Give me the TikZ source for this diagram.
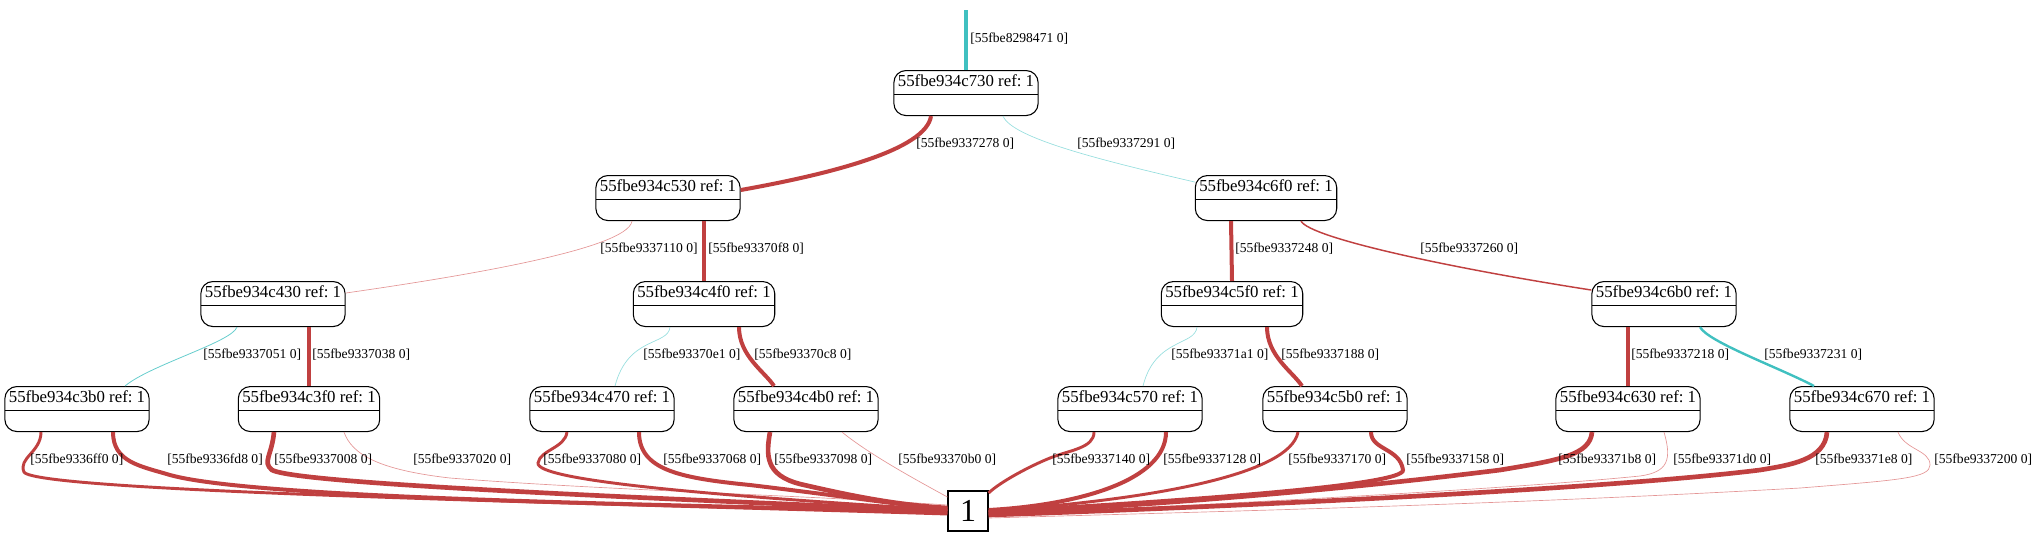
\documentclass[tikz,border=0pt]{standalone}
\usepackage{fontspec}
\setmainfont{Liberation Serif}
\usetikzlibrary{calc}
\definecolor{redc}{RGB}{192,64,64}
\definecolor{pinkc}{RGB}{228,150,150}
\definecolor{cyanc}{RGB}{64,192,192}
\definecolor{lcyanc}{RGB}{150,222,222}
\frenchspacing
\tikzset{
  rec/.style={draw, line width=0.8pt, rounded corners=9pt, inner xsep=3pt, inner ysep=0pt,
    text height=12pt, text depth=21.75pt, anchor=north,
    font=\fontsize{12.6pt}{14pt}\selectfont,
    path picture={\draw[line width=0.8pt] ([yshift=-18pt]path picture bounding box.north west) -- ([yshift=-18pt]path picture bounding box.north east);}},
  lbl/.style={font=\fontsize{10.2pt}{12pt}\selectfont, inner sep=0pt, anchor=west},
  sink/.style={draw, line width=0.9pt, minimum width=30pt, minimum height=30pt, inner sep=0pt,
    font=\fontsize{24pt}{28pt}\selectfont},
  eheavy/.style={draw=redc, line width=3.5pt},
  ethick/.style={draw=redc, line width=3pt},
  emid/.style={draw=redc, line width=2.2pt},
  ered/.style={draw=redc, line width=1.1pt},
  ethin/.style={draw=pinkc, line width=0.5pt},
  ecyan/.style={draw=cyanc, line width=1.8pt},
  ecyanthin/.style={draw=lcyanc, line width=0.5pt},
}
\begin{document}
\begin{tikzpicture}[x=0.75pt,y=-0.75pt]
\useasboundingbox (0,0) rectangle (2037,537);
% nodes
\node[rec] (c730) at (966,70) {55fbe934c730 ref: 1};
\node[rec] (c530) at (668,175) {55fbe934c530 ref: 1};
\node[rec] (c6f0) at (1266,175) {55fbe934c6f0 ref: 1};
\node[rec] (c430) at (273,281) {55fbe934c430 ref: 1};
\node[rec] (c4f0) at (704,281) {55fbe934c4f0 ref: 1};
\node[rec] (c5f0) at (1232,281) {55fbe934c5f0 ref: 1};
\node[rec] (c6b0) at (1664,281) {55fbe934c6b0 ref: 1};
\node[rec] (c3b0) at (77,386) {55fbe934c3b0 ref: 1};
\node[rec] (c3f0) at (309,386) {55fbe934c3f0 ref: 1};
\node[rec] (c470) at (602,386) {55fbe934c470 ref: 1};
\node[rec] (c4b0) at (806,386) {55fbe934c4b0 ref: 1};
\node[rec] (c570) at (1130,386) {55fbe934c570 ref: 1};
\node[rec] (c5b0) at (1335,386) {55fbe934c5b0 ref: 1};
\node[rec] (c630) at (1628,386) {55fbe934c630 ref: 1};
\node[rec] (c670) at (1862,386) {55fbe934c670 ref: 1};
\node[sink] (one) at (968,511) {1};
\coordinate (top) at (966,10);

% top edges
\draw[draw=cyanc, line width=2.5pt] (top) -- (c730.north);
\draw[ethick] ($(c730.south)+(-35,0)$) .. controls (926,150) and (830,174) .. ($(c530.east)+(0,-8)$);
\draw[ecyanthin] ($(c730.south)+(37,0)$) .. controls (1012,138) and (1100,160) .. ($(c6f0.west)+(0,-16)$);
\draw[ethin] ($(c530.south)+(-36,0)$) .. controls (628,250) and (450,278) .. ($(c430.east)+(0,-11)$);
\draw[ethick] ($(c530.south)+(36,0)$) -- (c4f0.north);
\draw[ethick] ($(c6f0.south)+(-35,0)$) -- (c5f0.north);
\draw[ered] ($(c6f0.south)+(35,0)$) .. controls (1310,238) and (1450,268) .. ($(c6b0.west)+(0,-14)$);
\draw[draw=cyanc!80!white, line width=0.6pt] ($(c430.south)+(-36,0)$) .. controls (232,342) and (150,365) .. ($(c3b0.north)+(48,0)$);
\draw[ethick] ($(c430.south)+(36,0)$) -- (c3f0.north);
\draw[ecyanthin] ($(c4f0.south)+(-34,0)$) .. controls (668,346) and (628,336) .. ($(c470.north)+(13,0)$);
\draw[ethick] ($(c4f0.south)+(35,0)$) .. controls (739,356) and (765,372) .. ($(c4b0.north)+(-32,0)$);
\draw[ecyanthin] ($(c5f0.south)+(-35,0)$) .. controls (1195,346) and (1155,338) .. ($(c570.north)+(13,0)$);
\draw[ethick] ($(c5f0.south)+(35,0)$) .. controls (1267,356) and (1293,372) .. ($(c5b0.north)+(-33,0)$);
\draw[ethick] ($(c6b0.south)+(-36,0)$) -- (c630.north);
\draw[ecyan] ($(c6b0.south)+(36,0)$) .. controls (1708,342) and (1780,368) .. ($(c670.north)+(-48,0)$);

% bottom edges, left group
\draw[emid] ($(c3b0.south)+(-36,0)$) .. controls (41,452) and (18,458) .. (24,472) .. controls (35,492) and (600,503) .. ($(one.west)+(0,3)$);
\draw[ethick] ($(c3b0.south)+(36,0)$) .. controls (113,462) and (140,466) .. (170,475) .. controls (260,500) and (700,505) .. ($(one.west)+(0,1)$);
\draw[eheavy] ($(c3f0.south)+(-35,0)$) .. controls (272,455) and (262,462) .. (272,470) .. controls (300,485) and (700,500) .. (one.west);
\draw[ethin] ($(c3f0.south)+(35,0)$) .. controls (352,455) and (380,470) .. (450,478) .. controls (600,490) and (800,495) .. ($(one.west)+(0,-6)$);
\draw[emid] ($(c470.south)+(-35,0)$) .. controls (565,448) and (540,450) .. (538,463) .. controls (536,480) and (700,495) .. ($(one.west)+(0,-1)$);
\draw[ethick] ($(c470.south)+(37,0)$) .. controls (639,470) and (680,478) .. (750,485) .. controls (850,497) and (900,505) .. ($(one.west)+(0,-2)$);
\draw[eheavy] ($(c4b0.south)+(-36,0)$) .. controls (766,455) and (765,475) .. (800,484) .. controls (860,498) and (900,505) .. ($(one.west)+(0,-3)$);
\draw[ethin] ($(c4b0.south)+(36,0)$) .. controls (870,455) and (920,482) .. ($(one.west)+(0,-14)$);

% bottom edges, right group
\draw[emid] ($(c570.south)+(-36,0)$) .. controls (1094,448) and (1070,450) .. (1050,458) .. controls (1030,466) and (1000,482) .. ($(one.east)+(0,-18)$);
\draw[ethick] ($(c570.south)+(36,0)$) .. controls (1166,480) and (1080,505) .. ($(one.east)+(0,-1)$);
\draw[emid] ($(c5b0.south)+(-37,0)$) .. controls (1290,475) and (1150,500) .. (one.east);
\draw[ethick] ($(c5b0.south)+(36,0)$) .. controls (1371,450) and (1400,448) .. (1403,470) .. controls (1405,485) and (1200,500) .. ($(one.east)+(0,1)$);
\draw[eheavy] ($(c630.south)+(-36,0)$) .. controls (1590,455) and (1560,460) .. (1500,470) .. controls (1300,495) and (1100,508) .. ($(one.east)+(0,2)$);
\draw[ethin] ($(c630.south)+(36,0)$) .. controls (1672,460) and (1668,472) .. (1640,476) .. controls (1500,490) and (1200,505) .. ($(one.east)+(0,4)$);
\draw[eheavy] ($(c670.south)+(-35,0)$) .. controls (1825,460) and (1790,465) .. (1760,470) .. controls (1600,490) and (1200,508) .. ($(one.east)+(0,4)$);
\draw[ethin] ($(c670.south)+(36,0)$) .. controls (1905,450) and (1930,450) .. (1930,465) .. controls (1930,478) and (1900,480) .. (1800,488) .. controls (1500,505) and (1200,512) .. ($(one.east)+(0,7)$);

% labels
\node[lbl] (l0) at (970,39) {[55fbe8298471 0]};
\node[lbl] (l1) at (916,144) {[55fbe9337278 0]};
\node[lbl] (l2) at (1077,144) {[55fbe9337291 0]};
\node[lbl] (l3) at (600,249) {[55fbe9337110 0]};
\node[lbl] (l4) at (708,249) {[55fbe93370f8 0]};
\node[lbl] (l5) at (1235,249) {[55fbe9337248 0]};
\node[lbl] (l6) at (1420,249) {[55fbe9337260 0]};
\node[lbl] (l7) at (203,355) {[55fbe9337051 0]};
\node[lbl] (l8) at (312,355) {[55fbe9337038 0]};
\node[lbl] (l9) at (643,355) {[55fbe93370e1 0]};
\node[lbl] (l10) at (754,355) {[55fbe93370c8 0]};
\node[lbl] (l11) at (1171,355) {[55fbe93371a1 0]};
\node[lbl] (l12) at (1281,355) {[55fbe9337188 0]};
\node[lbl] (l13) at (1631,355) {[55fbe9337218 0]};
\node[lbl] (l14) at (1764,355) {[55fbe9337231 0]};
\node[lbl] (b1) at (30,460) {[55fbe9336ff0 0]};
\node[lbl] (b2) at (167,460) {[55fbe9336fd8 0]};
\node[lbl] (b3) at (274,460) {[55fbe9337008 0]};
\node[lbl] (b4) at (413,460) {[55fbe9337020 0]};
\node[lbl] (b5) at (543,460) {[55fbe9337080 0]};
\node[lbl] (b6) at (663,460) {[55fbe9337068 0]};
\node[lbl] (b7) at (774,460) {[55fbe9337098 0]};
\node[lbl] (b8) at (898,460) {[55fbe93370b0 0]};
\node[lbl] (b9) at (1052,460) {[55fbe9337140 0]};
\node[lbl] (b10) at (1163,460) {[55fbe9337128 0]};
\node[lbl] (b11) at (1288,460) {[55fbe9337170 0]};
\node[lbl] (b12) at (1406,460) {[55fbe9337158 0]};
\node[lbl] (b13) at (1558,460) {[55fbe93371b8 0]};
\node[lbl] (b14) at (1673,460) {[55fbe93371d0 0]};
\node[lbl] (b15) at (1815,460) {[55fbe93371e8 0]};
\node[lbl] (b16) at (1934,460) {[55fbe9337200 0]};
\end{tikzpicture}
\end{document}
